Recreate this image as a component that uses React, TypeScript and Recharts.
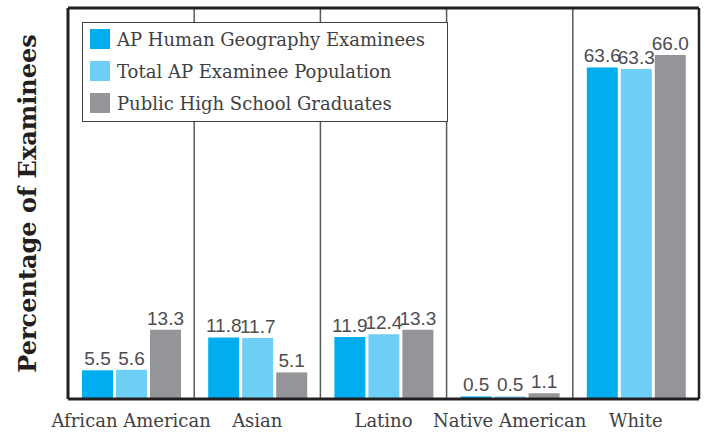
import { Bar, BarChart, LabelList, ReferenceLine, XAxis, YAxis } from "recharts";

const categories = ["African American", "Asian", "Latino", "Native American", "White"];
const apHumanGeo = [5.5, 11.8, 11.9, 0.5, 63.6];
const totalAp = [5.6, 11.7, 12.4, 0.5, 63.3];
const publicHs = [13.3, 5.1, 13.3, 1.1, 66.0];
const dividers = [1, 2, 3, 4];
const gridTicks = [0, 1, 2, 3, 4, 5];

const SERIES = [
  { key: "apHumanGeo", name: "AP Human Geography Examinees", color: "#00aeef" },
  { key: "totalAp", name: "Total AP Examinee Population", color: "#6dcff6" },
  { key: "publicHs", name: "Public High School Graduates", color: "#939598" },
];

const INK = "#414042";
const FRAME = "#231f20";
const SERIF = "'DejaVu Serif', serif";
const SANS = "'Liberation Sans', Arial, sans-serif";

const data = categories.map((c, i) => ({
  category: c,
  apHumanGeo: apHumanGeo[i],
  totalAp: totalAp[i],
  publicHs: publicHs[i],
}));

// legend sits in a white box over the plot, like the print original
function LegendBox() {
  return (
    <div
      style={{
        position: "absolute",
        top: 22,
        left: 82,
        boxSizing: "border-box",
        width: 366,
        height: 100,
        border: `1px solid ${INK}`,
        background: "#fff",
        padding: "0 0 0 7px",
      }}
    >
      {SERIES.map((s) => (
        <div key={s.key} style={{ display: "flex", alignItems: "center", height: 32 }}>
          <span style={{ width: 20, height: 20, background: s.color, display: "inline-block" }} />
          <span style={{ marginLeft: 7, fontFamily: SERIF, fontSize: 18, color: INK, whiteSpace: "nowrap" }}>
            {s.name}
          </span>
        </div>
      ))}
    </div>
  );
}

export default function App() {
  return (
    <div style={{ position: "absolute", top: 0, left: 0, width: 705, height: 432, background: "#fff" }}>
      <BarChart
        width={705}
        height={432}
        data={data}
        margin={{ top: 8, right: 6, bottom: 0, left: 0 }}
        barCategoryGap={14}
        barGap={3}
      >
        <XAxis
          dataKey="category"
          height={33}
          interval={0}
          tickLine={false}
          axisLine={{ stroke: FRAME, strokeWidth: 3 }}
          tick={{ fontFamily: SERIF, fontSize: 18, fill: INK }}
          tickMargin={9}
        />
        <XAxis
          xAxisId="grid"
          dataKey="gridPos"
          type="number"
          scale="linear"
          domain={[0, 5]}
          ticks={gridTicks}
          allowDataOverflow
          hide
        />
        <YAxis
          width={68}
          domain={[0, 75]}
          tick={false}
          tickLine={false}
          axisLine={false}
          label={{
            value: "Percentage of Examinees",
            angle: -90,
            position: "center",
            dx: -7,
            fontFamily: SERIF,
            fontWeight: 700,
            fontSize: 24,
            fill: FRAME,
          }}
        />
        {dividers.map((d) => (
          <ReferenceLine key={d} xAxisId="grid" x={d} stroke="#58595b" strokeWidth={1.5} />
        ))}
        <ReferenceLine xAxisId="grid" x={0} stroke={FRAME} strokeWidth={3} />
        <ReferenceLine xAxisId="grid" x={5} stroke={FRAME} strokeWidth={2.5} />
        <ReferenceLine y={75} stroke={FRAME} strokeWidth={3} />
        {SERIES.map((s) => (
          <Bar key={s.key} dataKey={s.key} name={s.name} fill={s.color} isAnimationActive={false}>
            <LabelList
              dataKey={s.key}
              position="top"
              offset={5}
              formatter={(v: number) => Number(v).toFixed(1)}
              style={{ fontFamily: SANS, fontSize: 19, fill: "#4d4d4f" }}
            />
          </Bar>
        ))}
      </BarChart>
      <LegendBox />
    </div>
  );
}
